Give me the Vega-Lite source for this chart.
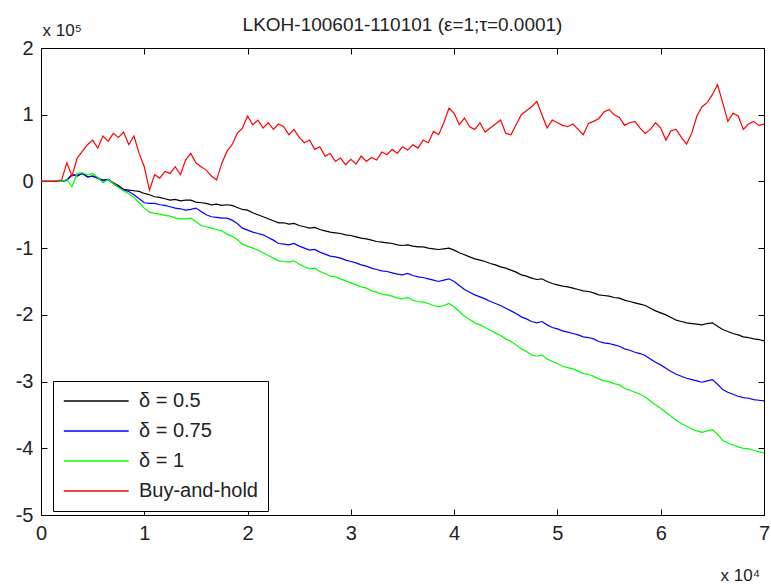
{
  "$schema": "https://vega.github.io/schema/vega-lite/v6.json",
  "width": 723,
  "height": 467,
  "autosize": {"type": "none"},
  "padding": {"left": 41, "top": 48, "right": 7, "bottom": 69},
  "background": "white",
  "title": {"text": "LKOH-100601-110101 (ε=1;τ=0.0001)", "font": "Liberation Sans", "fontSize": 19, "fontWeight": "normal", "color": "#222222", "offset": -10, "dy": 4},
  "config": {
    "view": {"stroke": null},
    "axis": {
      "grid": false,
      "domainColor": "#000000",
      "domainWidth": 1,
      "tickColor": "#000000",
      "tickWidth": 1,
      "tickSize": -6,
      "labelFont": "Liberation Sans",
      "labelFontSize": 20,
      "labelColor": "#222222",
      "titleFont": "Liberation Sans",
      "titleFontSize": 17,
      "titleFontWeight": "normal",
      "titleColor": "#222222"
    }
  },
  "data": {"values": [
    {"x":0.00,"a":0,"b":0,"c":0,"d":0},
    {"x":0.05,"a":0,"b":0,"c":0,"d":0},
    {"x":0.10,"a":0,"b":0,"c":0,"d":0},
    {"x":0.15,"a":0,"b":0,"c":0,"d":0},
    {"x":0.20,"a":0,"b":0,"c":0,"d":0.02},
    {"x":0.25,"a":0.02,"b":0.02,"c":0.03,"d":0.28},
    {"x":0.30,"a":0.10,"b":0.10,"c":-0.08,"d":0.08},
    {"x":0.35,"a":0.08,"b":0.09,"c":0.12,"d":0.35},
    {"x":0.40,"a":0.12,"b":0.12,"c":0.13,"d":0.45},
    {"x":0.45,"a":0.07,"b":0.07,"c":0.10,"d":0.55},
    {"x":0.50,"a":0.08,"b":0.08,"c":0.12,"d":0.62},
    {"x":0.55,"a":0.05,"b":0.05,"c":0.06,"d":0.50},
    {"x":0.60,"a":0.02,"b":0.01,"c":-0.02,"d":0.68},
    {"x":0.65,"a":0.03,"b":0.03,"c":0.03,"d":0.60},
    {"x":0.70,"a":-0.02,"b":-0.03,"c":-0.03,"d":0.72},
    {"x":0.75,"a":-0.06,"b":-0.08,"c":-0.09,"d":0.66},
    {"x":0.80,"a":-0.12,"b":-0.13,"c":-0.14,"d":0.74},
    {"x":0.85,"a":-0.13,"b":-0.15,"c":-0.19,"d":0.55},
    {"x":0.90,"a":-0.14,"b":-0.20,"c":-0.24,"d":0.68},
    {"x":0.95,"a":-0.15,"b":-0.26,"c":-0.32,"d":0.42},
    {"x":1.00,"a":-0.18,"b":-0.32,"c":-0.40,"d":0.22},
    {"x":1.05,"a":-0.20,"b":-0.33,"c":-0.46,"d":-0.13},
    {"x":1.10,"a":-0.23,"b":-0.33,"c":-0.48,"d":0.10},
    {"x":1.15,"a":-0.24,"b":-0.35,"c":-0.49,"d":0.05},
    {"x":1.20,"a":-0.26,"b":-0.36,"c":-0.51,"d":0.15},
    {"x":1.25,"a":-0.28,"b":-0.38,"c":-0.52,"d":0.12},
    {"x":1.30,"a":-0.27,"b":-0.40,"c":-0.55,"d":0.22},
    {"x":1.35,"a":-0.29,"b":-0.41,"c":-0.56,"d":0.10},
    {"x":1.40,"a":-0.28,"b":-0.43,"c":-0.56,"d":0.32},
    {"x":1.45,"a":-0.28,"b":-0.42,"c":-0.55,"d":0.42},
    {"x":1.50,"a":-0.31,"b":-0.40,"c":-0.60,"d":0.28},
    {"x":1.55,"a":-0.32,"b":-0.45,"c":-0.66,"d":0.22},
    {"x":1.60,"a":-0.33,"b":-0.50,"c":-0.68,"d":0.17},
    {"x":1.65,"a":-0.35,"b":-0.53,"c":-0.70,"d":0.08},
    {"x":1.70,"a":-0.34,"b":-0.54,"c":-0.72,"d":0.02},
    {"x":1.75,"a":-0.36,"b":-0.55,"c":-0.74,"d":0.27},
    {"x":1.80,"a":-0.35,"b":-0.55,"c":-0.79,"d":0.45},
    {"x":1.85,"a":-0.36,"b":-0.58,"c":-0.82,"d":0.55},
    {"x":1.90,"a":-0.39,"b":-0.63,"c":-0.87,"d":0.72},
    {"x":1.95,"a":-0.42,"b":-0.70,"c":-0.94,"d":0.80},
    {"x":2.00,"a":-0.43,"b":-0.73,"c":-0.97,"d":0.98},
    {"x":2.05,"a":-0.47,"b":-0.76,"c":-1.00,"d":0.85},
    {"x":2.10,"a":-0.50,"b":-0.78,"c":-1.03,"d":0.92},
    {"x":2.15,"a":-0.53,"b":-0.80,"c":-1.07,"d":0.80},
    {"x":2.20,"a":-0.56,"b":-0.84,"c":-1.11,"d":0.88},
    {"x":2.25,"a":-0.59,"b":-0.88,"c":-1.15,"d":0.78},
    {"x":2.30,"a":-0.62,"b":-0.93,"c":-1.19,"d":0.86},
    {"x":2.35,"a":-0.62,"b":-0.94,"c":-1.20,"d":0.82},
    {"x":2.40,"a":-0.64,"b":-0.95,"c":-1.21,"d":0.70},
    {"x":2.45,"a":-0.63,"b":-0.93,"c":-1.19,"d":0.78},
    {"x":2.50,"a":-0.66,"b":-0.97,"c":-1.24,"d":0.66},
    {"x":2.55,"a":-0.68,"b":-1.00,"c":-1.28,"d":0.58},
    {"x":2.60,"a":-0.70,"b":-1.03,"c":-1.31,"d":0.62},
    {"x":2.65,"a":-0.69,"b":-1.02,"c":-1.30,"d":0.48},
    {"x":2.70,"a":-0.72,"b":-1.06,"c":-1.35,"d":0.52},
    {"x":2.75,"a":-0.74,"b":-1.09,"c":-1.38,"d":0.38},
    {"x":2.80,"a":-0.76,"b":-1.12,"c":-1.42,"d":0.42},
    {"x":2.85,"a":-0.77,"b":-1.13,"c":-1.43,"d":0.30},
    {"x":2.90,"a":-0.78,"b":-1.15,"c":-1.46,"d":0.35},
    {"x":2.95,"a":-0.80,"b":-1.18,"c":-1.49,"d":0.25},
    {"x":3.00,"a":-0.81,"b":-1.20,"c":-1.52,"d":0.33},
    {"x":3.05,"a":-0.83,"b":-1.22,"c":-1.55,"d":0.26},
    {"x":3.10,"a":-0.85,"b":-1.25,"c":-1.58,"d":0.38},
    {"x":3.15,"a":-0.86,"b":-1.27,"c":-1.60,"d":0.30},
    {"x":3.20,"a":-0.88,"b":-1.30,"c":-1.64,"d":0.36},
    {"x":3.25,"a":-0.90,"b":-1.32,"c":-1.66,"d":0.32},
    {"x":3.30,"a":-0.91,"b":-1.34,"c":-1.69,"d":0.44},
    {"x":3.35,"a":-0.92,"b":-1.35,"c":-1.70,"d":0.40},
    {"x":3.40,"a":-0.93,"b":-1.37,"c":-1.72,"d":0.48},
    {"x":3.45,"a":-0.95,"b":-1.39,"c":-1.75,"d":0.42},
    {"x":3.50,"a":-0.96,"b":-1.40,"c":-1.76,"d":0.52},
    {"x":3.55,"a":-0.95,"b":-1.38,"c":-1.74,"d":0.47},
    {"x":3.60,"a":-0.97,"b":-1.41,"c":-1.78,"d":0.55},
    {"x":3.65,"a":-0.98,"b":-1.43,"c":-1.80,"d":0.50},
    {"x":3.70,"a":-0.98,"b":-1.44,"c":-1.81,"d":0.62},
    {"x":3.75,"a":-1.00,"b":-1.46,"c":-1.83,"d":0.58},
    {"x":3.80,"a":-1.01,"b":-1.48,"c":-1.86,"d":0.75},
    {"x":3.85,"a":-1.02,"b":-1.50,"c":-1.88,"d":0.70},
    {"x":3.90,"a":-1.01,"b":-1.48,"c":-1.86,"d":0.88},
    {"x":3.95,"a":-1.00,"b":-1.46,"c":-1.83,"d":1.10},
    {"x":4.00,"a":-1.03,"b":-1.50,"c":-1.88,"d":1.02},
    {"x":4.05,"a":-1.07,"b":-1.56,"c":-1.95,"d":0.85},
    {"x":4.10,"a":-1.10,"b":-1.62,"c":-2.02,"d":0.95},
    {"x":4.15,"a":-1.13,"b":-1.66,"c":-2.07,"d":0.82},
    {"x":4.20,"a":-1.16,"b":-1.70,"c":-2.12,"d":0.78},
    {"x":4.25,"a":-1.18,"b":-1.73,"c":-2.15,"d":0.88},
    {"x":4.30,"a":-1.20,"b":-1.76,"c":-2.19,"d":0.74},
    {"x":4.35,"a":-1.23,"b":-1.80,"c":-2.23,"d":0.80},
    {"x":4.40,"a":-1.25,"b":-1.83,"c":-2.27,"d":0.86},
    {"x":4.45,"a":-1.28,"b":-1.86,"c":-2.31,"d":0.92},
    {"x":4.50,"a":-1.30,"b":-1.90,"c":-2.36,"d":0.72},
    {"x":4.55,"a":-1.33,"b":-1.94,"c":-2.40,"d":0.70},
    {"x":4.60,"a":-1.36,"b":-1.98,"c":-2.45,"d":0.85},
    {"x":4.65,"a":-1.40,"b":-2.03,"c":-2.51,"d":1.00},
    {"x":4.70,"a":-1.42,"b":-2.06,"c":-2.55,"d":1.06},
    {"x":4.75,"a":-1.45,"b":-2.10,"c":-2.60,"d":1.12},
    {"x":4.80,"a":-1.47,"b":-2.12,"c":-2.62,"d":1.20},
    {"x":4.85,"a":-1.46,"b":-2.10,"c":-2.60,"d":1.00},
    {"x":4.90,"a":-1.50,"b":-2.15,"c":-2.66,"d":0.80},
    {"x":4.95,"a":-1.53,"b":-2.19,"c":-2.70,"d":0.92},
    {"x":5.00,"a":-1.55,"b":-2.21,"c":-2.73,"d":0.88},
    {"x":5.05,"a":-1.57,"b":-2.24,"c":-2.77,"d":0.84},
    {"x":5.10,"a":-1.58,"b":-2.26,"c":-2.79,"d":0.82},
    {"x":5.15,"a":-1.60,"b":-2.28,"c":-2.81,"d":0.86},
    {"x":5.20,"a":-1.62,"b":-2.30,"c":-2.84,"d":0.78},
    {"x":5.25,"a":-1.64,"b":-2.33,"c":-2.88,"d":0.70},
    {"x":5.30,"a":-1.65,"b":-2.34,"c":-2.89,"d":0.87},
    {"x":5.35,"a":-1.67,"b":-2.36,"c":-2.92,"d":0.90},
    {"x":5.40,"a":-1.70,"b":-2.40,"c":-2.96,"d":0.94},
    {"x":5.45,"a":-1.71,"b":-2.42,"c":-2.99,"d":1.04},
    {"x":5.50,"a":-1.72,"b":-2.43,"c":-3.00,"d":1.08},
    {"x":5.55,"a":-1.74,"b":-2.45,"c":-3.03,"d":1.00},
    {"x":5.60,"a":-1.75,"b":-2.47,"c":-3.05,"d":0.96},
    {"x":5.65,"a":-1.78,"b":-2.51,"c":-3.10,"d":0.84},
    {"x":5.70,"a":-1.80,"b":-2.53,"c":-3.13,"d":0.88},
    {"x":5.75,"a":-1.82,"b":-2.56,"c":-3.16,"d":0.90},
    {"x":5.80,"a":-1.84,"b":-2.58,"c":-3.19,"d":0.80},
    {"x":5.85,"a":-1.86,"b":-2.61,"c":-3.23,"d":0.72},
    {"x":5.90,"a":-1.90,"b":-2.66,"c":-3.29,"d":0.78},
    {"x":5.95,"a":-1.94,"b":-2.71,"c":-3.35,"d":0.88},
    {"x":6.00,"a":-1.97,"b":-2.75,"c":-3.40,"d":0.80},
    {"x":6.05,"a":-2.00,"b":-2.80,"c":-3.46,"d":0.62},
    {"x":6.10,"a":-2.04,"b":-2.85,"c":-3.52,"d":0.76},
    {"x":6.15,"a":-2.08,"b":-2.89,"c":-3.58,"d":0.78},
    {"x":6.20,"a":-2.10,"b":-2.92,"c":-3.63,"d":0.66},
    {"x":6.25,"a":-2.12,"b":-2.95,"c":-3.67,"d":0.56},
    {"x":6.30,"a":-2.13,"b":-2.97,"c":-3.71,"d":0.72},
    {"x":6.35,"a":-2.14,"b":-2.99,"c":-3.74,"d":0.98},
    {"x":6.40,"a":-2.15,"b":-3.01,"c":-3.76,"d":1.12},
    {"x":6.45,"a":-2.13,"b":-2.99,"c":-3.74,"d":1.18},
    {"x":6.50,"a":-2.12,"b":-2.97,"c":-3.72,"d":1.30},
    {"x":6.55,"a":-2.17,"b":-3.04,"c":-3.79,"d":1.45},
    {"x":6.60,"a":-2.22,"b":-3.12,"c":-3.88,"d":1.18},
    {"x":6.65,"a":-2.25,"b":-3.16,"c":-3.92,"d":0.90},
    {"x":6.70,"a":-2.28,"b":-3.19,"c":-3.95,"d":1.02},
    {"x":6.75,"a":-2.30,"b":-3.22,"c":-3.98,"d":0.98},
    {"x":6.80,"a":-2.33,"b":-3.24,"c":-4.00,"d":0.78},
    {"x":6.85,"a":-2.34,"b":-3.25,"c":-4.01,"d":0.86},
    {"x":6.90,"a":-2.36,"b":-3.27,"c":-4.03,"d":0.90},
    {"x":6.95,"a":-2.37,"b":-3.28,"c":-4.05,"d":0.84},
    {"x":7.00,"a":-2.39,"b":-3.29,"c":-4.07,"d":0.86}
  ]},
  "transform": [{"fold": ["a", "b", "c", "d"], "as": ["series", "y"]}],
  "layer": [
    {
      "mark": {"type": "line", "strokeWidth": 1.2, "clip": true},
      "encoding": {
        "x": {"field": "x", "type": "quantitative", "scale": {"domain": [0, 7], "nice": false, "zero": false},
              "axis": {"orient": "bottom", "values": [0,1,2,3,4,5,6,7], "labelPadding": 14, "labelFlush": false,
                       "title": "x 10⁴", "titleAngle": 0, "titleX": 679, "titleY": 65, "titleAlign": "left", "titleBaseline": "alphabetic", "titleAnchor": null}},
        "y": {"field": "y", "type": "quantitative", "scale": {"domain": [-5, 2], "nice": false, "zero": false},
              "axis": {"orient": "left", "values": [-5,-4,-3,-2,-1,0,1,2], "labelPadding": 14, "labelFlush": false,
                       "labelExpr": "datum.value + ''",
                       "title": "x 10⁵", "titleAngle": 0, "titleX": 1, "titleY": -13, "titleAlign": "left", "titleBaseline": "alphabetic", "titleAnchor": null}},
        "color": {"field": "series", "type": "nominal",
                  "scale": {"domain": ["a", "b", "c", "d"], "range": ["#000000", "#0000ff", "#00ff00", "#ff0000"]},
                  "legend": {"orient": "none", "legendX": 12, "legendY": 333, "title": null,
                             "symbolType": "M-1.7,0H10.3", "symbolSize": 117, "symbolStrokeWidth": 1.5, "symbolFillColor": "transparent",
                             "labelFont": "Liberation Sans", "labelFontSize": 20, "labelColor": "#222222", "labelOffset": 56,
                             "strokeColor": "#000000", "fillColor": "white", "padding": 10, "rowPadding": 10,
                             "labelExpr": "{'a': 'δ = 0.5', 'b': 'δ = 0.75', 'c': 'δ = 1', 'd': 'Buy-and-hold'}[datum.value]"}}
      }
    },
    {
      "mark": {"type": "line", "opacity": 0},
      "encoding": {
        "x": {"field": "x", "type": "quantitative", "axis": {"orient": "top", "values": [0,1,2,3,4,5,6,7], "labels": false, "title": null}},
        "y": {"field": "y", "type": "quantitative", "axis": {"orient": "right", "values": [-5,-4,-3,-2,-1,0,1,2], "labels": false, "title": null}}
      }
    }
  ],
  "resolve": {"axis": {"x": "independent", "y": "independent"}}
}
